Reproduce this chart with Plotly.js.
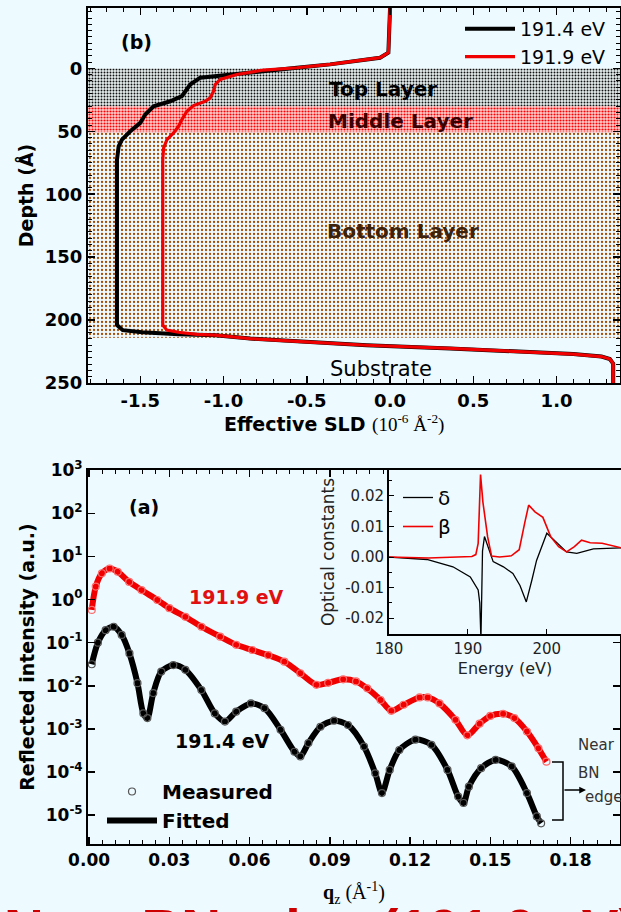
<!DOCTYPE html>
<html>
<head>
<meta charset="utf-8">
<script src="https://cdn.plot.ly/plotly-3.0.1.min.js"></script>
<style>html,body{margin:0;padding:0;background:#edfaff;}#chart{width:621px;height:912px;}</style>
</head>
<body>
<div id="chart"></div>
<script>
// ---------- (b) depth profile: effective SLD (1e-6 Å^-2) vs depth (Å) ----------
const depth191_4 = [-48, -12.5, -8.5, -5.9, -3.2, -0.5, 4.8, 7.4, 12.8, 16.7, 22.1, 26.1, 30.1, 36.7, 43.3, 50.0, 56.6, 62, 72.6, 204, 208, 209.7, 211.3, 212, 214.7, 217.5, 220, 222.5, 225, 227, 229, 231, 234.6, 250];
const sld191_4   = [0, -0.01, -0.06, -0.2, -0.36, -0.56, -0.96, -1.14, -1.20, -1.22, -1.25, -1.32, -1.42, -1.47, -1.50, -1.56, -1.61, -1.63, -1.64, -1.64, -1.605, -1.49, -1.27, -1.05, -0.84, -0.48, -0.14, 0.36, 0.78, 1.10, 1.27, 1.32, 1.34, 1.34];
const depth191_9 = [-48, -12.5, -8.5, -5.9, -3.2, -0.5, 1.3, 4.8, 8.8, 12.8, 18.1, 23.4, 26.1, 29.5, 34, 40.7, 46, 51.3, 56.6, 63.3, 72.6, 204, 208, 209.7, 211.3, 212, 214.7, 217.5, 220, 222.5, 225, 227, 229, 231, 234.6, 250];
const sld191_9   = [0, -0.01, -0.06, -0.2, -0.36, -0.56, -0.76, -0.92, -1.02, -1.05, -1.06, -1.08, -1.11, -1.18, -1.22, -1.25, -1.27, -1.30, -1.34, -1.36, -1.365, -1.365, -1.34, -1.27, -1.16, -1.05, -0.84, -0.48, -0.14, 0.36, 0.78, 1.10, 1.27, 1.32, 1.34, 1.34];
// layer boundaries (depth, Å)
const layerNames  = ['Top Layer', 'Middle Layer', 'Bottom Layer'];
const layerTop    = [0, 30, 51];
const layerBottom = [30, 51, 214];

// ---------- (a) reflectivity ----------
const q191_9 = [0.001, 0.0025, 0.0048, 0.0077, 0.0107, 0.015, 0.0196, 0.0255, 0.030, 0.036, 0.042, 0.049, 0.055, 0.061, 0.067, 0.073, 0.079, 0.085, 0.0894, 0.095, 0.0998, 0.104, 0.109, 0.113, 0.1176, 0.1236, 0.1266, 0.131, 0.137, 0.1414, 0.146, 0.150, 0.1548, 0.159, 0.1637, 0.168, 0.171];
const R191_9 = [0.575, 2.0, 4.07, 5.25, 4.42, 2.57, 1.66, 0.977, 0.631, 0.398, 0.234, 0.138, 0.0891, 0.0676, 0.0513, 0.0363, 0.0195, 0.0105, 0.0117, 0.0141, 0.0126, 0.00871, 0.00468, 0.00263, 0.00363, 0.00537, 0.00537, 0.00389, 0.00162, 0.000708, 0.00132, 0.0020, 0.00224, 0.00178, 0.000871, 0.000355, 0.000174];
const q191_4 = [0.001, 0.0033, 0.0062, 0.0092, 0.0122, 0.0151, 0.0181, 0.0203, 0.0218, 0.024, 0.027, 0.0315, 0.036, 0.042, 0.047, 0.0508, 0.055, 0.0605, 0.0656, 0.0716, 0.0768, 0.079, 0.082, 0.0865, 0.0916, 0.0968, 0.1028, 0.107, 0.1095, 0.1124, 0.116, 0.122, 0.128, 0.134, 0.138, 0.14, 0.142, 0.1466, 0.152, 0.158, 0.1637, 0.1674, 0.169];
const R191_4 = [0.0316, 0.1, 0.195, 0.234, 0.151, 0.0562, 0.0115, 0.00229, 0.00178, 0.00676, 0.0214, 0.0302, 0.0234, 0.00794, 0.00229, 0.00148, 0.00251, 0.00389, 0.00302, 0.000955, 0.000295, 0.000229, 0.000468, 0.00112, 0.00155, 0.00123, 0.000389, 0.0000933, 0.0000324, 0.000112, 0.000324, 0.000562, 0.000427, 0.000112, 0.0000269, 0.0000191, 0.0000457, 0.000123, 0.000191, 0.000135, 0.0000324, 0.00000933, 0.00000646];
const fit191_4 = R191_4;

// ---------- inset: optical constants ----------
const energyDelta = [180, 184.8, 188.1, 190.3, 191.3, 191.5, 191.65, 191.85, 192.1, 192.6, 193.2, 194.5, 195.7, 196.6, 197.4, 198.1, 198.7, 200.0, 201.2, 202.5, 203.8, 205.9, 209.5];
const delta       = [0, -0.0008, -0.0032, -0.0065, -0.0108, -0.015, -0.027, 0.002, 0.0067, 0.003, -0.0015, -0.0032, -0.0054, -0.0093, -0.0147, -0.0076, -0.0011, 0.0078, 0.005, 0.0017, 0.0012, 0.0027, 0.003];
const energyBeta  = [180, 185, 190.5, 191.0, 191.3, 191.6, 191.9, 192.2, 192.5, 193, 194, 195.5, 196.5, 197.2, 197.7, 198.5, 199.5, 200.5, 201.5, 202.5, 203.5, 204.4, 205.5, 207, 209.5];
const beta        = [0, -0.0003, 0.0002, 0.0008, 0.0045, 0.027, 0.018, 0.013, 0.0066, 0.0003, 0, 0.0004, 0.0024, 0.0112, 0.017, 0.0148, 0.013, 0.0066, 0.0034, 0.0017, 0.0034, 0.0055, 0.0047, 0.0045, 0.003];

// tick labels
const sldTicks = [-1.5, -1.0, -0.5, 0.0, 0.5, 1.0];
const sldTickText = ['-1.5', '-1.0', '-0.5', '0.0', '0.5', '1.0'];
const depthTicks = [0, 50, 100, 150, 200, 250];
const qTicks = [0, 0.03, 0.06, 0.09, 0.12, 0.15, 0.18];
const qTickText = ['0.00', '0.03', '0.06', '0.09', '0.12', '0.15', '0.18'];
const rExp = [-5, -4, -3, -2, -1, 0, 1, 2, 3];
const eTicks = [180, 190, 200];
const ocTicks = [-0.02, -0.01, 0, 0.01, 0.02];
const ocTickText = ['-0.02', '-0.01', '0.00', '0.01', '0.02'];

// ---------- layout helpers ----------
const W = 621, H = 912;
const PX = x => x / W;
const PY = y => 1 - y / H;
const BG = '#edfaff';
const RED = '#f00000';
const FONT = 'DejaVu Sans, Liberation Sans, sans-serif';
const SERIF = 'Liberation Serif, DejaVu Serif, serif';
const sldRange = [-1.814, 1.381];

const patterns = [
  {shape: '.', fgcolor: '#111111', bgcolor: '#e6eeee', size: 3, solidity: 0.32},
  {shape: '.', fgcolor: '#ff0000', bgcolor: '#ffcfcf', size: 3, solidity: 0.4},
  {shape: '.', fgcolor: '#a84a00', bgcolor: BG, size: 4, solidity: 0.25}
];

const traces = [];
layerNames.forEach((name, i) => {
  traces.push({
    type: 'scatter', mode: 'lines', xaxis: 'x', yaxis: 'y', name: name,
    x: [sldRange[0], sldRange[1], sldRange[1], sldRange[0]],
    y: [layerTop[i], layerTop[i], layerBottom[i], layerBottom[i]],
    fill: 'toself', fillpattern: patterns[i], fillcolor: patterns[i].bgcolor,
    line: {width: 0}, showlegend: false, hoverinfo: 'skip'
  });
});
traces.push({type: 'scatter', mode: 'lines', xaxis: 'x', yaxis: 'y', name: '191.4 eV',
  x: sld191_4, y: depth191_4, line: {color: '#000', width: 4}, legend: 'legend'});
traces.push({type: 'scatter', mode: 'lines', xaxis: 'x', yaxis: 'y', name: '191.9 eV',
  x: sld191_9, y: depth191_9, line: {color: RED, width: 3.2}, legend: 'legend'});

traces.push({type: 'scatter', mode: 'lines+markers', xaxis: 'x2', yaxis: 'y2', name: '191.9 eV measured',
  x: q191_9, y: R191_9, line: {color: RED, width: 6, shape: 'spline', smoothing: 0.8},
  marker: {symbol: 'circle-open', size: 7, color: '#ff6a6a', line: {width: 1.2}}, showlegend: false});
traces.push({type: 'scatter', mode: 'lines', xaxis: 'x2', yaxis: 'y2', name: 'Fitted',
  x: q191_4, y: fit191_4, line: {color: '#000', width: 6, shape: 'spline', smoothing: 0.8}, legend: 'legend2'});
traces.push({type: 'scatter', mode: 'markers', xaxis: 'x2', yaxis: 'y2', name: 'Measured',
  x: q191_4, y: R191_4, marker: {symbol: 'circle-open', size: 7, color: '#555', line: {width: 1.2}}, legend: 'legend2'});

traces.push({type: 'scatter', mode: 'lines', xaxis: 'x3', yaxis: 'y3', name: 'δ',
  x: energyDelta, y: delta, line: {color: '#000', width: 1.3}, legend: 'legend3'});
traces.push({type: 'scatter', mode: 'lines', xaxis: 'x3', yaxis: 'y3', name: 'β',
  x: energyBeta, y: beta, line: {color: RED, width: 1.6}, legend: 'legend3'});

const axisBase = {
  showline: true, linecolor: '#000', linewidth: 2, ticks: 'inside', ticklen: 7, tickwidth: 1.5,
  tickcolor: '#000', showgrid: false, zeroline: false, mirror: 'ticks'
};
const tickFontB = (s) => ({family: FONT, size: s, color: '#000', weight: 'bold'});
const ann = (text, x, y, font, extra) => Object.assign({text: text, x: PX(x), y: PY(y), xref: 'paper', yref: 'paper',
  xanchor: 'center', yanchor: 'middle', showarrow: false, font: font}, extra || {});

const layout = {
  width: W, height: H, margin: {l: 0, r: 0, t: 0, b: 0},
  paper_bgcolor: BG, plot_bgcolor: BG,
  xaxis: Object.assign({}, axisBase, {
    domain: [PX(88), PX(620)], anchor: 'y', range: sldRange,
    tickmode: 'array', tickvals: sldTicks, ticktext: sldTickText, tickfont: tickFontB(18),
    minor: {dtick: 0.1, tick0: 0, ticks: 'inside', ticklen: 4, tickwidth: 1, tickcolor: '#000'},
    title: {text: 'Effective SLD <span style="font-family:Liberation Serif;font-weight:normal">(10<sup>-6</sup> Å<sup>-2</sup>)</span>&nbsp;&nbsp;&nbsp;&nbsp;&nbsp;&nbsp;', font: tickFontB(19), standoff: 8}
  }),
  yaxis: Object.assign({}, axisBase, {
    domain: [PY(383), PY(8)], anchor: 'x', range: [250, -48],
    tickmode: 'array', tickvals: depthTicks, tickfont: tickFontB(18),
    minor: {dtick: 5, tick0: 0, ticks: 'inside', ticklen: 4, tickwidth: 1, tickcolor: '#000'},
    title: {text: 'Depth (Å)', font: tickFontB(19), standoff: 6}
  }),
  xaxis2: Object.assign({}, axisBase, {
    domain: [PX(88), PX(620)], anchor: 'y2', range: [-0.0004, 0.1985],
    tickmode: 'array', tickvals: qTicks, ticktext: qTickText, tickfont: tickFontB(17),
    minor: {dtick: 0.005, tick0: 0, ticks: 'inside', ticklen: 4, tickwidth: 1, tickcolor: '#000'},
    title: {text: '<b>q</b><sub>z</sub> (Å<sup>-1</sup>)', font: {family: SERIF, size: 20, color: '#000'}, standoff: 16}
  }),
  yaxis2: Object.assign({}, axisBase, {
    domain: [PY(844), PY(470)], anchor: 'x2', type: 'log', range: [-5.67, 3.005],
    tickmode: 'array', tickvals: rExp.map(e => Math.pow(10, e)),
    ticktext: rExp.map(e => '10<sup>' + e + '</sup>'), tickfont: tickFontB(17),
    title: {text: 'Reflected intensity (a.u.)', font: tickFontB(19), standoff: 6}
  }),
  xaxis3: {
    domain: [PX(389), 1], anchor: 'y3', range: [180, 209.4], showline: true, linecolor: '#000', linewidth: 2,
    ticks: 'inside', ticklen: 5, tickwidth: 1, tickcolor: '#000', showgrid: false, zeroline: false,
    tickmode: 'array', tickvals: eTicks, tickfont: {family: FONT, size: 15, color: '#222'},
    title: {text: 'Energy (eV)', font: {family: FONT, size: 16, color: '#222'}, standoff: 6}
  },
  yaxis3: {
    domain: [PY(634), PY(470)], anchor: 'x3', range: [-0.0252, 0.0285], showline: true, linecolor: '#000', linewidth: 2,
    ticks: 'inside', ticklen: 5, tickwidth: 1, tickcolor: '#000', showgrid: false, zeroline: false,
    tickmode: 'array', tickvals: ocTicks, ticktext: ocTickText, tickfont: {family: FONT, size: 15, color: '#222'},
    minor: {dtick: 0.005, tick0: 0, ticks: 'inside', ticklen: 3, tickwidth: 1, tickcolor: '#000'},
    title: {text: 'Optical constants', font: {family: FONT, size: 17, color: '#222'}, standoff: 6}
  },
  legend: {x: PX(460), y: PY(10), xanchor: 'left', yanchor: 'top', bgcolor: 'rgba(0,0,0,0)',
    font: {family: FONT, size: 19, color: '#000'}, itemwidth: 50, tracegroupgap: 0},
  legend2: {x: PX(102), y: PY(772), xanchor: 'left', yanchor: 'top', bgcolor: 'rgba(0,0,0,0)',
    font: {family: FONT, size: 20, color: '#000', weight: 'bold'}, itemwidth: 50, traceorder: 'reversed'},
  legend3: {x: PX(398), y: PY(478), xanchor: 'left', yanchor: 'top', bgcolor: 'rgba(0,0,0,0)',
    font: {family: FONT, size: 20, color: '#000'}, itemwidth: 30},
  shapes: [
    {type: 'path', xref: 'paper', yref: 'paper', line: {color: '#000', width: 1.5},
     path: 'M' + PX(552) + ',' + PY(762) + ' L' + PX(563) + ',' + PY(762) + ' L' + PX(563) + ',' + PY(820) + ' L' + PX(552) + ',' + PY(820)}
  ],
  annotations: [
    ann('<b>(b)</b>', 136, 42, {family: FONT, size: 19, color: '#000'}),
    ann('<b>Top Layer</b>', 383, 89, {family: FONT, size: 20, color: '#000'}),
    ann('<b>Middle Layer</b>', 400, 121, {family: FONT, size: 20, color: '#3a0000'}),
    ann('<b>Bottom Layer</b>', 403, 231, {family: FONT, size: 20, color: '#3d220c'}),
    ann('Substrate', 381, 369, {family: FONT, size: 21, color: '#000'}),
    ann('<b>(a)</b>', 144, 507, {family: FONT, size: 19, color: '#000'}),
    ann('<b>191.9 eV</b>', 236, 597, {family: FONT, size: 19, color: '#e01010'}),
    ann('<b>191.4 eV</b>', 222, 741, {family: FONT, size: 19, color: '#000'}),
    ann('Near', 576, 745, {family: FONT, size: 15, color: '#333'}, {xanchor: 'left'}),
    ann('BN', 576, 773, {family: FONT, size: 15, color: '#333'}, {xanchor: 'left'}),
    ann('edge', 583, 797, {family: FONT, size: 15, color: '#333'}, {xanchor: 'left'}),
    ann('', 586, 790, null, {showarrow: true, ax: -23, ay: 0, arrowhead: 2, arrowsize: 0.9, arrowwidth: 1.5, arrowcolor: '#000'}),
    ann('<b>Near BN edge (191.9 eV)</b>', 2, 895.5, {family: 'Liberation Sans, Arial, sans-serif', size: 55, color: '#cc0000'}, {xanchor: 'left', yanchor: 'top'})
  ]
};

Plotly.newPlot('chart', traces, layout, {displayModeBar: false, staticPlot: true});
</script>
</body>
</html>
